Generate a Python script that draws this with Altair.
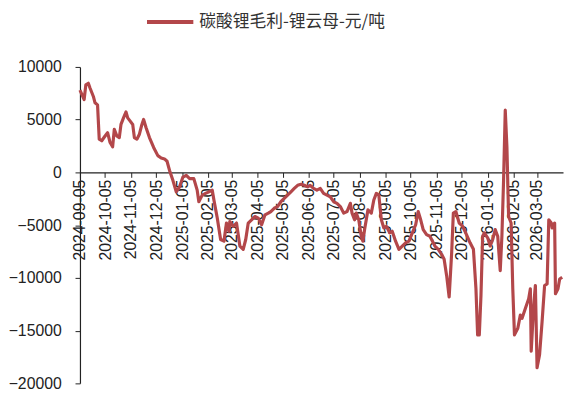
import altair as alt
import pandas as pd

dates = [
    "2024-09-05", "2024-09-10", "2024-09-12", "2024-09-15", "2024-09-17", "2024-09-21", "2024-09-23", "2024-09-26",
    "2024-09-28", "2024-10-01", "2024-10-05", "2024-10-08", "2024-10-11", "2024-10-14", "2024-10-16", "2024-10-19",
    "2024-10-22", "2024-10-24", "2024-10-27", "2024-10-30", "2024-11-01", "2024-11-04", "2024-11-07", "2024-11-09",
    "2024-11-12", "2024-11-15", "2024-11-18", "2024-11-20", "2024-11-23", "2024-11-27", "2024-12-02", "2024-12-07",
    "2024-12-11", "2024-12-15", "2024-12-18", "2024-12-21", "2024-12-25", "2024-12-29", "2025-01-02", "2025-01-06",
    "2025-01-10", "2025-01-14", "2025-01-19", "2025-01-23", "2025-01-25", "2025-01-29", "2025-02-02", "2025-02-06",
    "2025-02-10", "2025-02-12", "2025-02-16", "2025-02-20", "2025-02-24", "2025-02-27", "2025-03-02", "2025-03-03",
    "2025-03-07", "2025-03-11", "2025-03-15", "2025-03-19", "2025-03-22", "2025-03-25", "2025-03-29", "2025-04-02",
    "2025-04-06", "2025-04-10", "2025-04-14", "2025-04-18", "2025-04-21", "2025-04-25", "2025-04-29", "2025-05-03",
    "2025-05-07", "2025-05-11", "2025-05-15", "2025-05-19", "2025-05-23", "2025-05-27", "2025-05-31", "2025-06-04",
    "2025-06-07", "2025-06-11", "2025-06-15", "2025-06-19", "2025-06-23", "2025-06-27", "2025-07-01", "2025-07-05",
    "2025-07-09", "2025-07-13", "2025-07-17", "2025-07-21", "2025-07-25", "2025-07-27", "2025-07-30", "2025-08-01",
    "2025-08-04", "2025-08-07", "2025-08-09", "2025-08-11", "2025-08-15", "2025-08-19", "2025-08-22", "2025-08-25",
    "2025-08-28", "2025-08-31", "2025-09-03", "2025-09-06", "2025-09-10", "2025-09-13", "2025-09-17", "2025-09-21",
    "2025-09-25", "2025-09-29", "2025-10-03", "2025-10-07", "2025-10-11", "2025-10-14", "2025-10-17", "2025-10-20",
    "2025-10-24", "2025-10-28", "2025-10-30", "2025-11-03", "2025-11-07", "2025-11-11", "2025-11-14", "2025-11-17",
    "2025-11-20", "2025-11-23", "2025-11-25", "2025-11-28", "2025-12-02", "2025-12-06", "2025-12-09", "2025-12-15",
    "2025-12-19", "2025-12-22", "2025-12-24", "2025-12-26", "2025-12-28", "2025-12-30", "2026-01-01", "2026-01-05",
    "2026-01-08", "2026-01-11", "2026-01-14", "2026-01-17", "2026-01-20", "2026-01-22", "2026-01-24", "2026-01-26",
    "2026-01-28", "2026-01-30", "2026-02-02", "2026-02-04", "2026-02-06", "2026-02-10", "2026-02-13", "2026-02-15",
    "2026-02-19", "2026-02-23", "2026-02-25", "2026-02-26", "2026-03-01", "2026-03-03", "2026-03-05", "2026-03-08",
    "2026-03-11", "2026-03-14", "2026-03-17", "2026-03-19", "2026-03-22", "2026-03-23", "2026-03-26", "2026-03-27",
    "2026-03-30", "2026-04-01", "2026-04-04",
]

values = [
    7800, 6900, 8300, 8450, 8000, 7200, 6600, 6400,
    3150, 3000, 3450, 3770, 2830, 2430, 4080, 3460,
    3300, 4550, 5170, 5730, 5170, 4860, 4550, 3300,
    3150, 3620, 4550, 5020, 4240, 3300, 2370, 1590,
    1370, 1280, 1060, 190, -750, -1840, -1370, -440,
    -280, -590, -590, -1680, -2780, -2150, -1990, -1840,
    -1680, -2620, -4330, -6360, -6520, -4800, -5580, -4650,
    -5110, -4800, -6980, -7290, -6360, -4800, -4490, -4180,
    -4330, -4960, -4020, -3860, -3710, -3400, -3240, -2780,
    -2460, -2150, -1840, -1520, -1220, -1120, -1220, -1370,
    -1220, -1520, -1680, -1520, -1990, -2150, -2310, -2780,
    -2930, -3240, -3860, -3710, -2930, -3860, -4490, -3860,
    -4490, -6050, -6520, -5420, -3550, -3860, -2620, -1990,
    -2150, -4490, -5270, -5110, -5730, -5580, -6520, -7290,
    -6980, -6670, -6520, -5730, -4960, -3710, -4490, -5420,
    -5890, -6050, -6360, -6980, -7290, -7760, -8230, -9790,
    -11810, -7600, -3860, -3710, -4800, -5100, -5600, -6670,
    -7290, -11030, -15400, -15400, -11660, -6050, -5730, -6200,
    -6980, -6360, -5420, -6050, -9320, -6050, -750, 5900,
    2370, -4180, -4800, -11030, -15400, -14770, -13530, -13840,
    -12900, -11970, -11030, -16950, -12590, -10720, -18510, -17270,
    -14150, -10720, -10570, -4490, -4800, -5270, -4800, -11500,
    -11030, -10100, -9940,
]

series_name = "碳酸锂毛利-锂云母-元/吨"

tick_months = [
    (2024, 9), (2024, 10), (2024, 11), (2024, 12), (2025, 1), (2025, 2), (2025, 3),
    (2025, 4), (2025, 5), (2025, 6), (2025, 7), (2025, 8), (2025, 9), (2025, 10),
    (2025, 11), (2025, 12), (2026, 1), (2026, 2), (2026, 3),
]
y_ticks = [-20000, -15000, -10000, -5000, 0, 5000, 10000]

df = pd.DataFrame({"date": dates, "value": values, "series": series_name})

x_values = [alt.DateTime(year=y, month=m, date=5) for y, m in tick_months]

PLOT_H = 321
PLOT_W = 490

line = alt.Chart(df).mark_line(strokeWidth=3.2, strokeJoin="round").encode(
    x=alt.X(
        "date:T",
        scale=alt.Scale(domain=[alt.DateTime(year=2024, month=9, date=5),
                                alt.DateTime(year=2026, month=4, date=5)]),
        axis=alt.Axis(
            values=x_values,
            format="%Y-%m-%d",
            labelAngle=270,
            labelAlign="right",
            labelBaseline="middle",
            labelFont="Liberation Sans",
            labelFontSize=16,
            labelColor="#222222",
            labelPadding=2,
            labelOverlap=False,
            labelBound=False,
            labelFlush=False,
            tickSize=5,
            tickColor="#222222",
            domainColor="#222222",
            domainWidth=1.2,
            grid=False,
            title=None,
            offset=-PLOT_H * 2 / 3,
        ),
    ),
    y=alt.Y(
        "value:Q",
        scale=alt.Scale(domain=[-20000, 10000], nice=False, zero=False),
        axis=alt.Axis(
            values=y_ticks,
            format="d",
            labelFont="Liberation Sans",
            labelFontSize=16,
            labelColor="#222222",
            labelPadding=14,
            tickSize=5,
            tickColor="#222222",
            domainColor="#222222",
            domainWidth=1.2,
            grid=False,
            title=None,
        ),
    ),
    color=alt.Color(
        "series:N",
        scale=alt.Scale(range=["#B3474A"]),
        legend=alt.Legend(
            title=None,
            orient="none",
            legendX=66,
            legendY=-71,
            symbolType="stroke",
            symbolSize=2209,
            symbolStrokeWidth=4,
            labelOffset=4,
            labelFont="Noto Sans CJK SC",
            labelFontSize=17,
            labelColor="#333333",
            labelLimit=400,
        ),
    ),
).properties(
    width=PLOT_W,
    height=PLOT_H,
    autosize=alt.AutoSizeParams(type="none"),
    padding={"left": 73, "top": 57, "right": 1, "bottom": 8},
).configure_view(stroke=None)

chart = line
chart.save("out.html", embed_options={"renderer": "svg", "actions": False})
